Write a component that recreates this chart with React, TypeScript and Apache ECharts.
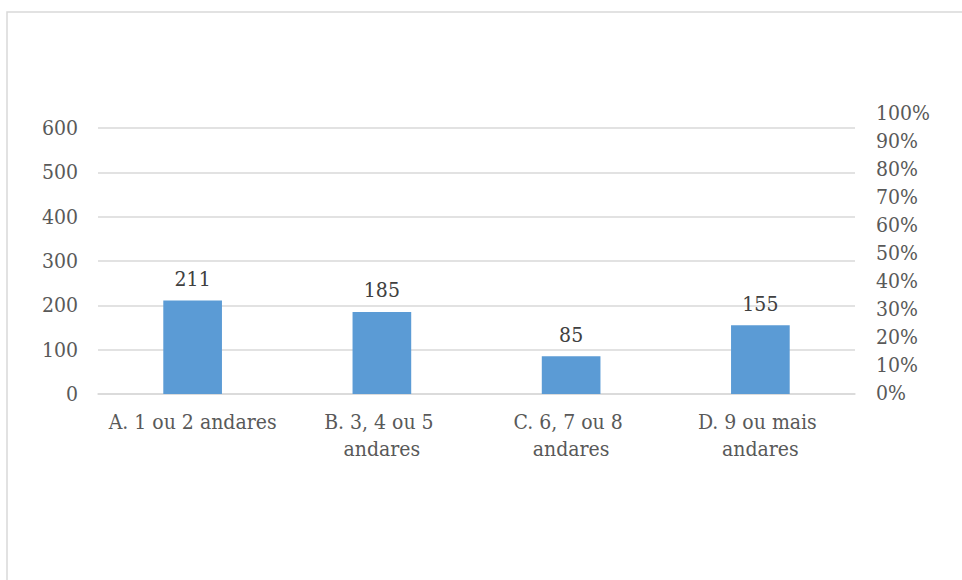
import React, { useEffect, useRef } from "react";
import * as echarts from "echarts";

const categories = [
  "A. 1 ou 2 andares",
  "B. 3, 4 ou 5 andares",
  "C. 6, 7 ou 8 andares",
  "D. 9 ou mais andares",
];
const counts = [211, 185, 85, 155];
const countTicks = { min: 0, max: 600, interval: 100 };
const shareTicks = { min: 0, max: 1, interval: 0.1 };

const FONT = "DejaVu Serif Condensed, DejaVu Serif";
const FONT_SIZE = 21;
const GRID_LINE = "#d9d9d9";
const LABEL = "#595959";

export default function App() {
  const ref = useRef<HTMLDivElement>(null);

  useEffect(() => {
    if (!ref.current) return;
    const chart = echarts.init(ref.current, undefined, { renderer: "svg" });
    chart.setOption({
      animation: false,
      backgroundColor: "#ffffff",
      textStyle: { fontFamily: FONT },
      graphic: [
        {
          type: "rect",
          shape: { x: 7, y: 12, width: 1000, height: 1000 },
          style: { fill: "none", stroke: GRID_LINE, lineWidth: 1.5 },
          silent: true,
        },
      ],
      grid: [
        { left: 98, right: 107, top: 128, bottom: 186 },
        { left: 98, right: 107, top: 113, bottom: 187 },
      ],
      xAxis: [
        {
          type: "category",
          gridIndex: 0,
          data: categories,
          axisLine: { show: true, lineStyle: { color: GRID_LINE, width: 1.5 } },
          axisTick: { show: false },
          axisLabel: {
            interval: 0,
            color: LABEL,
            fontFamily: FONT,
            fontSize: FONT_SIZE,
            lineHeight: 27,
            margin: 14,
            width: 176,
            overflow: "break",
          },
        },
        { type: "value", gridIndex: 1, show: false, min: 0, max: 1 },
      ],
      yAxis: [
        {
          type: "value",
          gridIndex: 0,
          ...countTicks,
          axisLine: { show: false },
          axisTick: { show: false },
          splitLine: { lineStyle: { color: GRID_LINE, width: 1.5 } },
          axisLabel: { color: LABEL, fontFamily: FONT, fontSize: FONT_SIZE, margin: 20 },
        },
        {
          type: "value",
          gridIndex: 1,
          position: "right",
          ...shareTicks,
          axisLine: { show: false },
          axisTick: { show: false },
          splitLine: { show: false },
          axisLabel: {
            color: LABEL,
            fontFamily: FONT,
            fontSize: FONT_SIZE,
            margin: 21,
            formatter: (v: number) => `${Math.round(v * 100)}%`,
          },
        },
      ],
      series: [
        {
          type: "bar",
          xAxisIndex: 0,
          yAxisIndex: 0,
          data: counts,
          barWidth: "31%",
          itemStyle: { color: "#5b9bd5" },
          label: {
            show: true,
            position: "top",
            distance: 11,
            color: "#404040",
            fontFamily: FONT,
            fontSize: FONT_SIZE,
          },
        },
      ],
    });
    return () => chart.dispose();
  }, []);

  return (
    <div
      ref={ref}
      style={{ position: "absolute", left: 0, top: 0, width: 962, height: 580 }}
    />
  );
}
